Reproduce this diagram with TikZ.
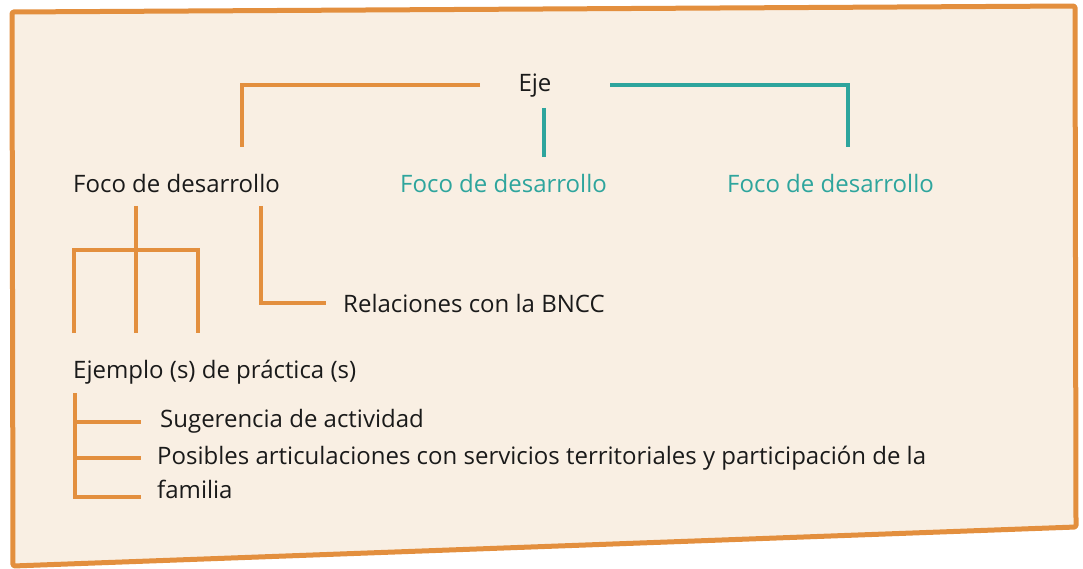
\documentclass[tikz,border=0pt]{standalone}
\usepackage{fontspec}
\setmainfont{Open Sans}
\definecolor{orangeline}{HTML}{E38F3E}
\definecolor{tealline}{HTML}{2EA59D}
\definecolor{paper}{HTML}{F9EFE3}
\definecolor{ink}{HTML}{1A1A1A}
\begin{document}
\begin{tikzpicture}[x=1pt,y=-1pt,
  frame/.style={draw=orangeline,fill=paper,line width=5pt,rounded corners=1.5pt,line join=round},
  lbl/.style={inner sep=0pt,anchor=base west,text=ink,font=\fontsize{24}{34}\selectfont},
  tlbl/.style={lbl,text=tealline},
  oline/.style={draw=orangeline,line width=4pt},
  tline/.style={draw=tealline,line width=4pt}]
\useasboundingbox (0,0) rectangle (1083,569);
\path[frame] (12,12) -- (1075,6) -- (1076,527) -- (13,566) -- cycle;
% texts
\node[lbl,anchor=base] (eje) at (535,92) {Eje};
\node[lbl] (foco1) at (73,193) {Foco de desarrollo};
\node[tlbl] (foco2) at (400,193) {Foco de desarrollo};
\node[tlbl] (foco3) at (727,193) {Foco de desarrollo};
\node[lbl] (bncc) at (343,312) {Relaciones con la BNCC};
\node[lbl] (ejemplo) at (73,378) {Ejemplo (s) de práctica (s)};
\node[lbl] (suger) at (160,427) {Sugerencia de actividad};
\node[lbl,align=left] (posibles) at (157,498) {Posibles articulaciones con servicios territoriales y participación de la\\familia};
% coordinates
\coordinate (eL) at (480,85);
\coordinate (eLc) at (242,85);
\coordinate (eLd) at (242,147);
\coordinate (eR) at (610,85);
\coordinate (eRc) at (848,85);
\coordinate (eRd) at (848,147);
\coordinate (eM) at (544,108);
\coordinate (eMd) at (544,157);
\coordinate (f1a) at (136,206);
\coordinate (f1b) at (136,333);
\coordinate (f1l) at (74,250);
\coordinate (f1r) at (198,250);
\coordinate (f1ld) at (74,333);
\coordinate (f1rd) at (198,333);
\coordinate (f2a) at (261,206);
\coordinate (f2c) at (261,303);
\coordinate (f2e) at (326,303);
\coordinate (pa) at (75,393);
\coordinate (p1) at (75,422);
\coordinate (p1e) at (141,422);
\coordinate (p2) at (75,458);
\coordinate (p2e) at (141,458);
\coordinate (p3) at (75,497);
\coordinate (p3e) at (141,497);
% connectors
\draw[oline] (eL) -- (eLc) -- (eLd);
\draw[tline] (eR) -- (eRc) -- (eRd);
\draw[tline] (eM) -- (eMd);
\draw[oline] (f1a) -- (f1b);
\draw[oline] (f1ld) -- (f1l) -- (f1r) -- (f1rd);
\draw[oline] (f2a) -- (f2c) -- (f2e);
\draw[oline] (pa) -- (p3) -- (p3e);
\draw[oline] (p1) -- (p1e);
\draw[oline] (p2) -- (p2e);
\end{tikzpicture}
\end{document}
